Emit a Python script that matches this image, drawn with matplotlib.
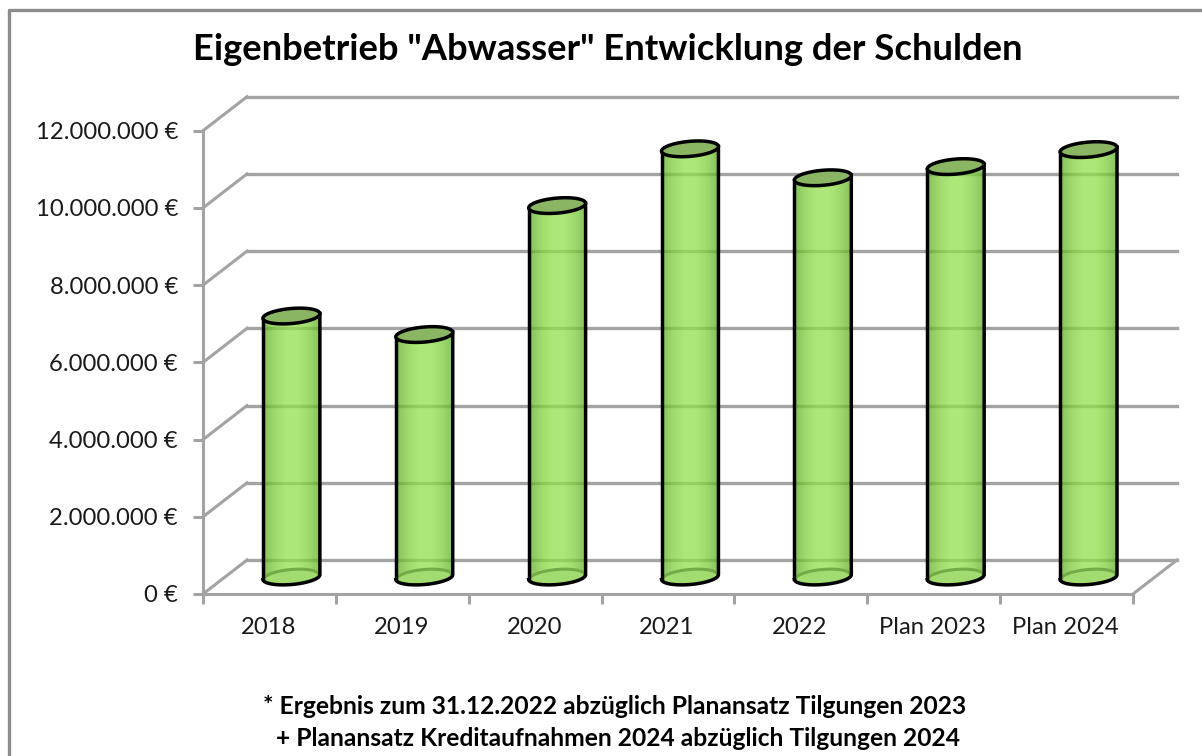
import numpy as np
import matplotlib
matplotlib.use("Agg")
import matplotlib.pyplot as plt
from matplotlib.patches import Polygon
from matplotlib.path import Path
from matplotlib.transforms import Affine2D, IdentityTransform

# values
categories = ["2018", "2019", "2020", "2021", "2022", "Plan 2023", "Plan 2024"]
schulden = [6760000, 6280000, 9620000, 11090000, 10340000, 10630000, 11070000]
yticks = [0, 2000000, 4000000, 6000000, 8000000, 10000000, 12000000]
ylabels = ["0 €", "2.000.000 €", "4.000.000 €", "6.000.000 €",
           "8.000.000 €", "10.000.000 €", "12.000.000 €"]
title = 'Eigenbetrieb "Abwasser" Entwicklung der Schulden'
note1 = "* Ergebnis zum 31.12.2022 abzüglich Planansatz Tilgungen 2023"
note2 = "+ Planansatz Kreditaufnahmen 2024 abzüglich Tilgungen 2024"

W, H = 1202, 756
plt.rcParams["font.family"] = ["Lato", "DejaVu Sans"]

GRID = "#a3a3a3"
TEXT = "#1a1a1a"
DEPTH_X, DEPTH_Y = 44, 34   # 3d offset of the back wall in pixels
BAR_W = 0.43
ELL_B = 7.5
TILT = np.deg2rad(5)

fig = plt.figure(figsize=(W/100, H/100), dpi=100)
fig.patch.set_facecolor("white")

# axes frame in pixels: front plane of the 3d box
left, right, top, bottom = 203, 1133, 130.7, 594
ax = fig.add_axes([left/W, 1-bottom/H, (right-left)/W, (bottom-top)/H])
ax.set_xlim(0, 7)
ax.set_ylim(0, 12000000)
ax.patch.set_visible(False)
for s in ["top", "right"]:
    ax.spines[s].set_visible(False)
for s in ["left", "bottom"]:
    ax.spines[s].set_color(GRID)
    ax.spines[s].set_linewidth(2.2)

ax.set_yticks(yticks)
ax.set_yticklabels(ylabels, fontsize=17.2, color=TEXT)
ax.set_xticks(range(8))
ax.set_xticklabels([])
ax.tick_params(axis="y", length=7, width=2.2, color=GRID, pad=11)
ax.tick_params(axis="x", length=7, width=2.2, color=GRID)
for i, c in enumerate(categories):
    ax.annotate(c, (i+0.5, 0), xytext=(-1, -34), textcoords="offset pixels",
                ha="center", va="center", fontsize=17.2, color=TEXT)

back = ax.transData + Affine2D().translate(DEPTH_X, DEPTH_Y)
mid = ax.transData + Affine2D().translate(DEPTH_X*0.5, DEPTH_Y*0.5)

# back wall and side wall lines
for t in yticks:
    ax.plot([0, 7], [t, t], transform=back, color=GRID, lw=2.4, clip_on=False, zorder=1)
    p0 = ax.transData.transform((0, t))
    ax.plot([p0[0], p0[0]+DEPTH_X], [p0[1], p0[1]+DEPTH_Y], transform=IdentityTransform(),
            color=GRID, lw=2.2, clip_on=False, zorder=1)
p1 = ax.transData.transform((7, 0))
ax.plot([p1[0], p1[0]+DEPTH_X], [p1[1], p1[1]+DEPTH_Y], transform=IdentityTransform(),
        color=GRID, lw=2.2, clip_on=False, zorder=1)


def ellipse_pts(cx, cy, a, b, t):
    x = a*np.cos(t)
    y = b*np.sin(t)
    return np.column_stack([cx + x*np.cos(TILT) - y*np.sin(TILT),
                            cy + x*np.sin(TILT) + y*np.cos(TILT)])


# bars are see-through so the grid shows, colours darkened to make up for it
grad = np.abs(np.linspace(-1, 1, 200))
c_mid = np.array([147, 225, 75])/255
c_edge = np.array([88, 168, 35])/255
img = (c_mid[None, :]*(1-grad[:, None]**2) + c_edge[None, :]*grad[:, None]**2)[None, :, :]

a_px = (ax.transData.transform((BAR_W, 0))[0] - ax.transData.transform((0, 0))[0])/2

for i, v in enumerate(schulden):
    xc = i + 0.5
    cx, cy0 = mid.transform((xc, 0))
    _, cy1 = mid.transform((xc, v))

    low = ellipse_pts(cx, cy0, a_px, ELL_B, np.linspace(np.pi, 2*np.pi, 60))
    up = ellipse_pts(cx, cy1, a_px, ELL_B, np.linspace(0, np.pi, 60))
    outline = np.vstack([low, up])

    im = ax.imshow(img, extent=[xc-BAR_W/2, xc+BAR_W/2, -500000, v+500000], aspect="auto",
                   transform=mid, zorder=2, alpha=0.75, clip_on=True)
    im.set_clip_path(Path(outline), IdentityTransform())

    # inner floor of the cylinder
    base = ellipse_pts(cx, cy0, a_px-1, ELL_B, np.linspace(0, 2*np.pi, 120))
    ax.add_patch(Polygon(base, closed=True, transform=IdentityTransform(), fc="#a2dc70",
                         ec="none", zorder=3, clip_on=False))
    arc = ellipse_pts(cx, cy0, a_px-1, ELL_B, np.linspace(0.05, np.pi-0.05, 60))
    ax.plot(arc[:, 0], arc[:, 1], transform=IdentityTransform(), color="#74ab48", lw=2.2,
            zorder=3, clip_on=False)

    # black outline, open at the top
    ax.plot(low[:, 0].tolist()+[up[0, 0]], low[:, 1].tolist()+[up[0, 1]],
            transform=IdentityTransform(), color="black", lw=2.5, zorder=5, clip_on=False,
            solid_joinstyle="round")
    ax.plot([low[0, 0], up[-1, 0]], [low[0, 1], up[-1, 1]], transform=IdentityTransform(),
            color="black", lw=2.5, zorder=5, clip_on=False)

    # lid
    lid = ellipse_pts(cx, cy1, a_px, ELL_B, np.linspace(0, 2*np.pi, 120))
    ax.add_patch(Polygon(lid, closed=True, transform=IdentityTransform(), fc="#8ab562",
                         ec="black", lw=2.5, zorder=6, clip_on=False))

ax.set_xlim(0, 7)
ax.set_ylim(0, 12000000)

# outer chart frame, only left and top are in the crop
fig.add_artist(plt.Line2D([9/W, 9/W, 1], [0, 1-9.5/H, 1-9.5/H], color="#8c8c8c", lw=2.4))

fig.text(608/W, 1-49/H, title, ha="center", va="center", fontsize=26.2, fontweight="bold", color="black")
fig.text(615/W, 1-706/H, note1, ha="center", va="center", fontsize=17.7, fontweight="bold", color="black")
fig.text(618/W, 1-739/H, note2, ha="center", va="center", fontsize=17.7, fontweight="bold", color="black")

fig.savefig("out.png", dpi=100)
